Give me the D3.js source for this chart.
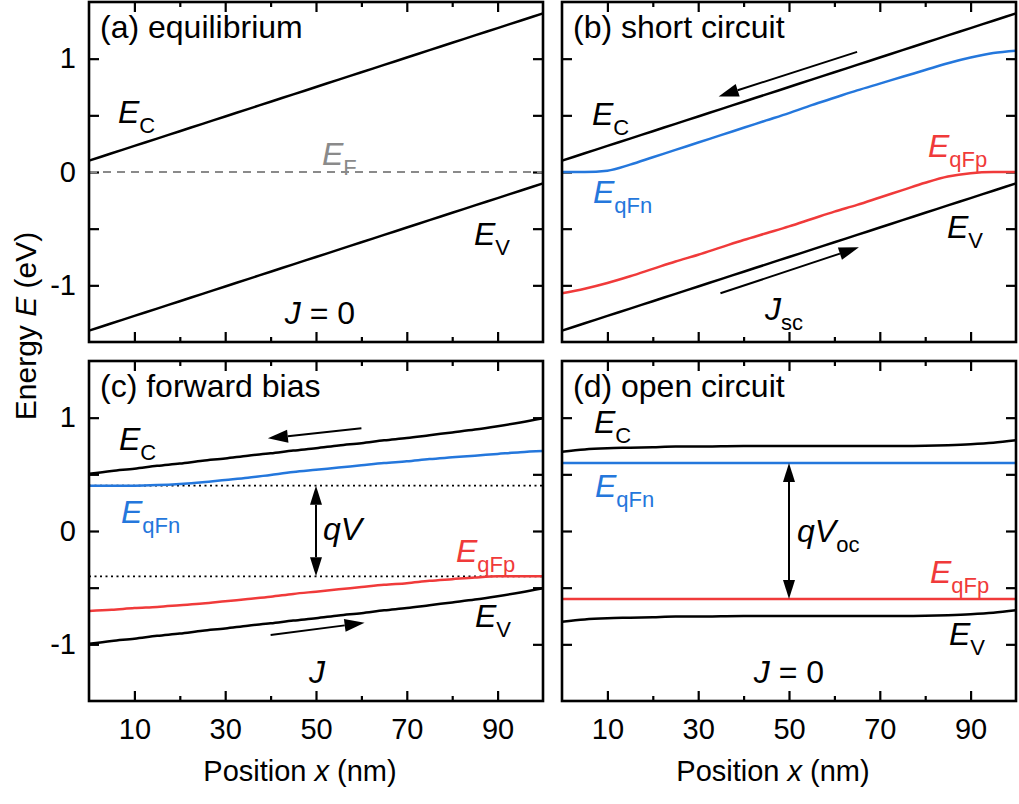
<!DOCTYPE html>
<html>
<head>
<meta charset="utf-8">
<script src="https://cdn.jsdelivr.net/npm/d3@7"></script>
<style>
  body { margin: 0; background: #fff; }
  svg text { font-family: "Liberation Sans", Arial, Helvetica, sans-serif; }
</style>
</head>
<body>
<svg id="chart" width="1019" height="804"></svg>
<script>
// ---------- data ----------
// position grid (nm) shared by every band-diagram curve
const positions = [0,5,10,15,20,25,30,35,40,45,50,55,60,65,70,75,80,85,90,95,100];

// (a) equilibrium
const ecA = [0.10,0.165,0.23,0.295,0.36,0.425,0.49,0.555,0.62,0.685,0.75,0.815,0.88,0.945,1.01,1.075,1.14,1.205,1.27,1.335,1.40];
const evA = [-1.40,-1.335,-1.27,-1.205,-1.14,-1.075,-1.01,-0.945,-0.88,-0.815,-0.75,-0.685,-0.62,-0.555,-0.49,-0.425,-0.36,-0.295,-0.23,-0.165,-0.10];
const efA = [0,0,0,0,0,0,0,0,0,0,0,0,0,0,0,0,0,0,0,0,0];

// (b) short circuit
const ecB = [0.10,0.165,0.23,0.295,0.36,0.425,0.49,0.555,0.62,0.685,0.75,0.815,0.88,0.945,1.01,1.075,1.14,1.205,1.27,1.335,1.40];
const fnB = [0,0,0.012,0.065,0.13,0.195,0.26,0.325,0.39,0.455,0.52,0.59,0.655,0.72,0.78,0.84,0.90,0.96,1.01,1.05,1.07];
const fpB = [-1.07,-1.03,-0.98,-0.92,-0.855,-0.79,-0.73,-0.665,-0.60,-0.54,-0.48,-0.415,-0.35,-0.29,-0.225,-0.16,-0.095,-0.04,-0.01,0,0];
const evB = [-1.40,-1.335,-1.27,-1.205,-1.14,-1.075,-1.01,-0.945,-0.88,-0.815,-0.75,-0.685,-0.62,-0.555,-0.49,-0.425,-0.36,-0.295,-0.23,-0.165,-0.10];

// (c) forward bias
const ecC = [0.505,0.53,0.55,0.575,0.595,0.62,0.64,0.665,0.685,0.71,0.73,0.755,0.775,0.80,0.82,0.845,0.87,0.895,0.925,0.958,0.995];
const fnC = [0.40,0.40,0.40,0.405,0.415,0.43,0.45,0.47,0.495,0.52,0.54,0.56,0.58,0.60,0.615,0.635,0.65,0.665,0.68,0.695,0.705];
const fpC = [-0.705,-0.695,-0.68,-0.67,-0.655,-0.64,-0.62,-0.60,-0.58,-0.555,-0.535,-0.515,-0.495,-0.475,-0.46,-0.44,-0.425,-0.41,-0.40,-0.40,-0.40];
const evC = [-0.995,-0.97,-0.95,-0.925,-0.905,-0.88,-0.86,-0.835,-0.815,-0.79,-0.77,-0.745,-0.725,-0.70,-0.68,-0.655,-0.63,-0.605,-0.575,-0.542,-0.505];
const biasLevelsC = [0.4, -0.4];

// (d) open circuit
const ecD = [0.70,0.72,0.73,0.735,0.74,0.745,0.745,0.748,0.75,0.75,0.75,0.75,0.75,0.75,0.75,0.75,0.752,0.757,0.765,0.778,0.80];
const fnD = [0.60,0.60,0.60,0.60,0.60,0.60,0.60,0.60,0.60,0.60,0.60,0.60,0.60,0.60,0.60,0.60,0.60,0.60,0.60,0.60,0.60];
const fpD = [-0.60,-0.60,-0.60,-0.60,-0.60,-0.60,-0.60,-0.60,-0.60,-0.60,-0.60,-0.60,-0.60,-0.60,-0.60,-0.60,-0.60,-0.60,-0.60,-0.60,-0.60];
const evD = [-0.80,-0.78,-0.77,-0.765,-0.76,-0.755,-0.755,-0.752,-0.75,-0.75,-0.75,-0.75,-0.75,-0.75,-0.75,-0.75,-0.748,-0.743,-0.735,-0.722,-0.70];

// axes
const xMajorTicks = [10,30,50,70,90];
const xMinorTicks = [20,40,60,80];
const yMajorTicks = [-1,0,1];
const yMinorTicks = [-0.5,0.5];
const panelTitles = ["(a) equilibrium","(b) short circuit","(c) forward bias","(d) open circuit"];

// ---------- layout ----------
const BLACK = "#000", BLUE = "#2477dc", RED = "#f03a3a", GREY = "#8a8a8a";
const W = 454, H = 340;
const origins = [[89,2],[562,2],[89,361],[562,361]];

const svg = d3.select("#chart");
const x = d3.scaleLinear().domain([0,100]).range([0,W]);
const y = d3.scaleLinear().domain([-1.5,1.5]).range([H,0]);
const line = d3.line().x(d => x(d[0])).y(d => y(d[1])).curve(d3.curveMonotoneX);
const pts = vals => positions.map((p,i) => [p, vals[i]]);

const panels = origins.map(([ox,oy]) =>
  svg.append("g").attr("transform", `translate(${ox},${oy})`));

function curve(g, vals, color, dash) {
  const p = g.append("path").datum(pts(vals))
    .attr("d", line).attr("fill","none")
    .attr("stroke", color).attr("stroke-width", 2.5)
    .attr("stroke-linejoin","round");
  if (dash) p.attr("stroke-dasharray", dash).attr("stroke-width", 2);
  return p;
}

function level(g, v, dash) {
  g.append("line").attr("x1", x(0)).attr("x2", x(100))
    .attr("y1", y(v)).attr("y2", y(v))
    .attr("stroke", BLACK).attr("stroke-width", 1.8)
    .attr("stroke-dasharray", dash);
}

// single arrow along the band, head at (x2,v2)
function arrow(g, x1, v1, x2, v2) {
  const ax = x(x1), ay = y(v1), bx = x(x2), by = y(v2);
  const ang = Math.atan2(by - ay, bx - ax);
  const L = 20, hw = 6.5;
  const cx = bx - L*Math.cos(ang), cy = by - L*Math.sin(ang);
  g.append("line").attr("x1", ax).attr("y1", ay).attr("x2", cx).attr("y2", cy)
    .attr("stroke", BLACK).attr("stroke-width", 2);
  g.append("path").attr("fill", BLACK).attr("d",
    `M${bx},${by}L${cx + hw*Math.sin(ang)},${cy - hw*Math.cos(ang)}L${cx - hw*Math.sin(ang)},${cy + hw*Math.cos(ang)}Z`);
}

// vertical double-headed arrow between two energies
function span(g, xv, vTop, vBot) {
  const px = x(xv), t = y(vTop), b = y(vBot), L = 19, hw = 6;
  g.append("line").attr("x1", px).attr("x2", px).attr("y1", t + L).attr("y2", b - L)
    .attr("stroke", BLACK).attr("stroke-width", 2);
  g.append("path").attr("fill", BLACK)
    .attr("d", `M${px},${t}L${px-hw},${t+L}L${px+hw},${t+L}Z`);
  g.append("path").attr("fill", BLACK)
    .attr("d", `M${px},${b}L${px-hw},${b-L}L${px+hw},${b-L}Z`);
}

// italic symbol with upright subscript
function sym(g, px, py, main, sub, color) {
  const t = g.append("text").attr("x", px).attr("y", py)
    .attr("fill", color).style("font-size", "32px");
  t.append("tspan").style("font-style", "italic").text(main);
  if (sub) t.append("tspan").attr("dy", 10).style("font-size", "22px").text(sub);
  return t;
}

function jLabel(g, cx, py, sub, eq) {
  const t = g.append("text").attr("x", cx).attr("y", py)
    .attr("text-anchor", "middle").style("font-size", "32px");
  t.append("tspan").style("font-style", "italic").text("J");
  if (sub) t.append("tspan").attr("dy", 10).style("font-size", "22px").text(sub);
  if (eq) t.append("tspan").text(" = 0");
}

// ---------- frames & axes ----------
panels.forEach((g, i) => {
  const left = i % 2 === 0, bottom = i >= 2;
  const fmt = d => d < 0 ? "-" + Math.abs(d) : String(d);

  const yAxL = d3.axisLeft(y).tickValues(yMajorTicks.concat(yMinorTicks))
    .tickSize(-10).tickSizeOuter(0).tickPadding(13)
    .tickFormat(d => (left && Number.isInteger(d)) ? fmt(d) : "");
  const yAxR = d3.axisRight(y).tickValues(yMajorTicks.concat(yMinorTicks))
    .tickSize(-10).tickSizeOuter(0).tickFormat("");
  const xMajB = d3.axisBottom(x).tickValues(xMajorTicks).tickSize(-10)
    .tickSizeOuter(0).tickPadding(17).tickFormat(d => bottom ? d : "");
  const xMinB = d3.axisBottom(x).tickValues(xMinorTicks).tickSize(-5)
    .tickSizeOuter(0).tickFormat("");
  const xMajT = d3.axisTop(x).tickValues(xMajorTicks).tickSize(-10)
    .tickSizeOuter(0).tickFormat("");
  const xMinT = d3.axisTop(x).tickValues(xMinorTicks).tickSize(-5)
    .tickSizeOuter(0).tickFormat("");

  const axes = [
    [yAxL, `translate(0,0)`], [yAxR, `translate(${W},0)`],
    [xMajB, `translate(0,${H})`], [xMinB, `translate(0,${H})`],
    [xMajT, `translate(0,0)`], [xMinT, `translate(0,0)`]
  ];
  axes.forEach(([ax, tr]) => {
    const a = g.append("g").attr("transform", tr).call(ax);
    a.select(".domain").remove();
    a.selectAll("line").attr("stroke", BLACK).attr("stroke-width", 2.2);
    a.selectAll("text").attr("fill", BLACK)
      .style("font-size", "29px")
      .style("font-family", "'Liberation Sans', Arial, sans-serif");
  });

  g.append("text").attr("x", 11).attr("y", 36)
    .style("font-size", "32px").text(panelTitles[i]);
});

// ---------- (a) equilibrium ----------
{
  const g = panels[0];
  curve(g, efA, GREY, "8,6");
  curve(g, ecA, BLACK);
  curve(g, evA, BLACK);
  sym(g, 29, 121, "E", "C", BLACK);
  sym(g, 233, 163, "E", "F", GREY);
  sym(g, 385, 243, "E", "V", BLACK);
  jLabel(g, 231, 322, null, true);
}

// ---------- (b) short circuit ----------
{
  const g = panels[1];
  curve(g, ecB, BLACK);
  curve(g, fnB, BLUE);
  curve(g, fpB, RED);
  curve(g, evB, BLACK);
  arrow(g, 65.0, 1.06, 34.5, 0.667);
  arrow(g, 34.9, -1.07, 65.4, -0.665);
  sym(g, 30, 123, "E", "C", BLACK);
  sym(g, 31, 201, "E", "qFn", BLUE);
  sym(g, 366, 155, "E", "qFp", RED);
  sym(g, 385, 236, "E", "V", BLACK);
  jLabel(g, 222, 318, "sc", false);
}

// ---------- (c) forward bias ----------
{
  const g = panels[2];
  biasLevelsC.forEach(v => level(g, v, "2,3.5"));
  curve(g, ecC, BLACK);
  curve(g, fnC, BLUE);
  curve(g, fpC, RED);
  curve(g, evC, BLACK);
  arrow(g, 60.0, 0.906, 39.4, 0.818);
  arrow(g, 40.0, -0.918, 60.7, -0.81);
  span(g, 50, biasLevelsC[0], biasLevelsC[1]);
  g.append("text").attr("x", 234).attr("y", 179).style("font-size", "32px")
    .style("font-style", "italic").text("qV");
  sym(g, 30, 89, "E", "C", BLACK);
  sym(g, 32, 162, "E", "qFn", BLUE);
  sym(g, 367, 201, "E", "qFp", RED);
  sym(g, 386, 266, "E", "V", BLACK);
  jLabel(g, 228, 322, null, false);
}

// ---------- (d) open circuit ----------
{
  const g = panels[3];
  curve(g, ecD, BLACK);
  curve(g, fnD, BLUE);
  curve(g, fpD, RED);
  curve(g, evD, BLACK);
  span(g, 50, fnD[10], fpD[10]);
  const t = g.append("text").attr("x", 235).attr("y", 181).style("font-size", "32px");
  t.append("tspan").style("font-style", "italic").text("qV");
  t.append("tspan").attr("dy", 10).style("font-size", "22px").text("oc");
  sym(g, 32, 72, "E", "C", BLACK);
  sym(g, 33, 136, "E", "qFn", BLUE);
  sym(g, 368, 222, "E", "qFp", RED);
  sym(g, 387, 284, "E", "V", BLACK);
  jLabel(g, 227, 322, null, true);
}

// frames drawn last so the curves sit underneath the border
panels.forEach(g => {
  g.append("rect").attr("x", 0).attr("y", 0).attr("width", W).attr("height", H)
    .attr("fill", "none").attr("stroke", BLACK).attr("stroke-width", 2.6);
});

// ---------- axis titles ----------
[89, 562].forEach(ox => {
  const t = svg.append("text").attr("x", ox + W/2 - 16).attr("y", 781)
    .attr("text-anchor", "middle").style("font-size", "29px");
  t.append("tspan").text("Position ");
  t.append("tspan").style("font-style", "italic").text("x");
  t.append("tspan").text(" (nm)");
});
{
  const t = svg.append("text").attr("transform", "translate(36,326) rotate(-90)")
    .attr("text-anchor", "middle").style("font-size", "30px");
  t.append("tspan").text("Energy ");
  t.append("tspan").style("font-style", "italic").text("E");
  t.append("tspan").text(" (eV)");
}
</script>
</body>
</html>
